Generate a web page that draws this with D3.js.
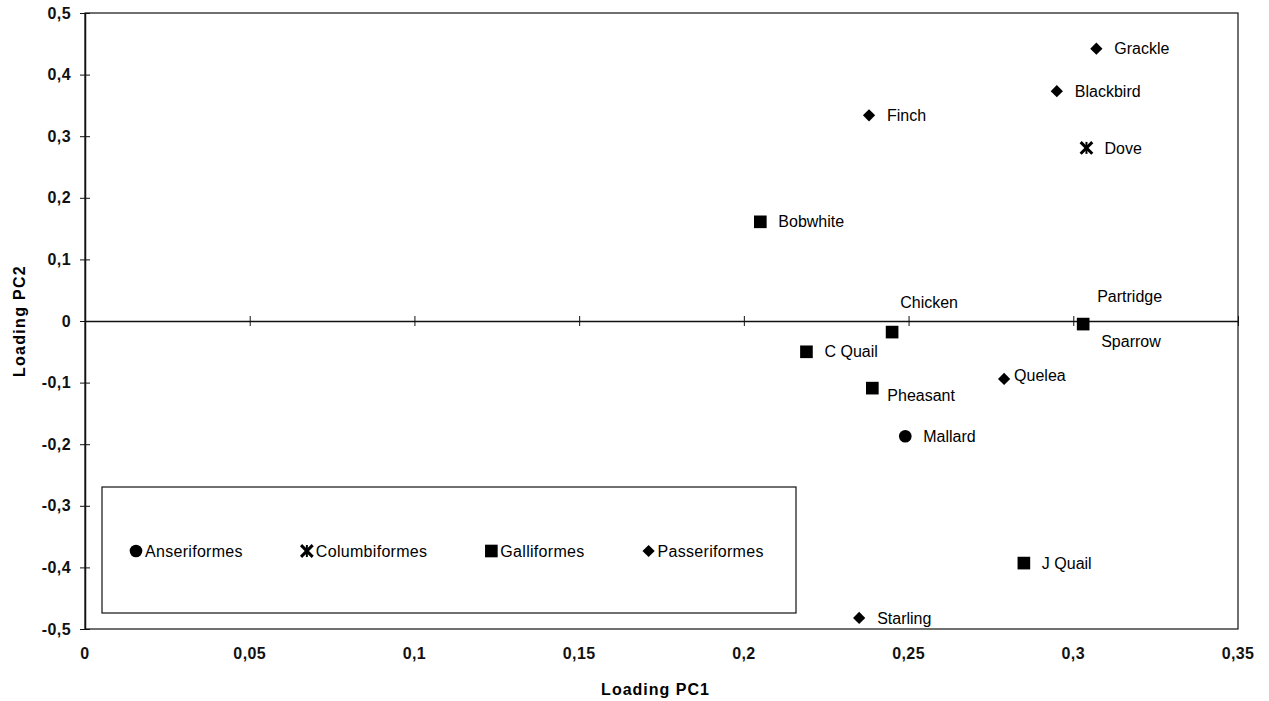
<!DOCTYPE html>
<html>
<head>
<meta charset="utf-8">
<script src="https://cdn.jsdelivr.net/npm/d3@7"></script>
<style>
  body { margin: 0; background: #fff; }
  text { font-family: "Liberation Sans", Arial, sans-serif; }
</style>
</head>
<body>
<div id="chart"></div>
<script>
// data
const birds = ['Grackle', 'Blackbird', 'Finch', 'Dove', 'Bobwhite', 'Chicken', 'Sparrow', 'Partridge',
	'C Quail', 'Pheasant', 'Quelea', 'Mallard', 'J Quail', 'Starling'];
const orders = ['Passeriformes', 'Passeriformes', 'Passeriformes', 'Columbiformes', 'Galliformes', 'Galliformes',
	'Passeriformes', 'Galliformes', 'Galliformes', 'Galliformes', 'Passeriformes', 'Anseriformes', 'Galliformes', 'Passeriformes'];
const pc1 = [0.307, 0.295, 0.238, 0.304, 0.205, 0.245, 0.303, 0.303, 0.219, 0.239, 0.279, 0.249, 0.285, 0.235];
const pc2 = [0.442, 0.373, 0.334, 0.281, 0.161, -0.018, -0.005, -0.005, -0.050, -0.109, -0.094, -0.187, -0.393, -0.482];
const legendOrders = ['Anseriformes', 'Columbiformes', 'Galliformes', 'Passeriformes'];
const xTicks = [0, 0.05, 0.1, 0.15, 0.2, 0.25, 0.3, 0.35];
const yTicks = [0.5, 0.4, 0.3, 0.2, 0.1, 0, -0.1, -0.2, -0.3, -0.4, -0.5];

const width = 1269, height = 701;
const margin = {top: 13, right: 31, bottom: 72, left: 85};
const innerW = width - margin.left - margin.right;
const innerH = height - margin.top - margin.bottom;

const svg = d3.select('#chart').append('svg')
	.attr('width', width)
	.attr('height', height);
const g = svg.append('g')
	.attr('transform', 'translate(' + margin.left + ',' + margin.top + ')');

const x = d3.scaleLinear().domain([0, 0.35]).range([0, innerW]);
const y = d3.scaleLinear().domain([-0.5, 0.5]).range([innerH, 0]);
const fmt = d => String(+d.toFixed(2)).replace('.', ',');

// frame
g.append('rect')
	.attr('width', innerW).attr('height', innerH)
	.attr('fill', 'none').attr('stroke', '#111').attr('stroke-width', 1.2);

// y axis on the left edge
const yAxisG = g.append('g')
	.call(d3.axisLeft(y).tickValues(yTicks).tickFormat(fmt).tickSize(0).tickPadding(14));
yAxisG.select('.domain').attr('stroke', '#111').attr('stroke-width', 1.5);
yAxisG.selectAll('.tick').append('line')
	.attr('x1', -5).attr('x2', 5).attr('stroke', '#111');
yAxisG.selectAll('text')
	.attr('font-size', 16).attr('font-weight', 'bold').attr('letter-spacing', 0.4)
	.attr('fill', '#111');

// x axis crossing at zero
const xAxisG = g.append('g')
	.attr('transform', 'translate(0,' + y(0) + ')')
	.call(d3.axisBottom(x).tickValues(xTicks).tickFormat('').tickSize(0));
xAxisG.select('.domain').attr('stroke', '#111').attr('stroke-width', 1.3);
xAxisG.selectAll('.tick').append('line')
	.attr('y1', -5).attr('y2', 5).attr('stroke', '#111');

// x tick labels below the frame
g.append('g')
	.attr('transform', 'translate(0,' + innerH + ')')
	.selectAll('text').data(xTicks).enter().append('text')
	.attr('x', d => x(d))
	.attr('y', 30)
	.attr('text-anchor', 'middle')
	.attr('font-size', 16).attr('font-weight', 'bold').attr('letter-spacing', 0.4)
	.attr('fill', '#111')
	.text(fmt);

// axis titles
svg.append('text')
	.attr('x', margin.left + x(0.35 / 2) - 6)
	.attr('y', 695)
	.attr('text-anchor', 'middle')
	.attr('font-size', 16).attr('font-weight', 'bold').attr('letter-spacing', 1)
	.text('Loading PC1');
svg.append('text')
	.attr('transform', 'translate(25,' + (margin.top + y(0)) + ') rotate(-90)')
	.attr('text-anchor', 'middle')
	.attr('font-size', 16).attr('font-weight', 'bold').attr('letter-spacing', 1.3)
	.text('Loading PC2');

// markers
const symbolFor = {
	Anseriformes: d3.symbol().type(d3.symbolCircle).size(125),
	Columbiformes: d3.symbol().type(d3.symbolX).size(90),
	Galliformes: d3.symbol().type(d3.symbolSquare).size(160),
	Passeriformes: d3.symbol().type(d3.symbolSquare).size(75)
};

function drawMarker(sel, order) {
	if (order === 'Columbiformes') {
		// asterisk-like X with a short vertical bar
		sel.append('path').attr('d', symbolFor[order]())
			.attr('fill', 'none').attr('stroke', '#000').attr('stroke-width', 3);
		sel.append('line').attr('x1', 0).attr('x2', 0).attr('y1', -6).attr('y2', 6)
			.attr('stroke', '#000').attr('stroke-width', 2);
	} else if (order === 'Passeriformes') {
		sel.append('path').attr('d', symbolFor[order]())
			.attr('transform', 'rotate(45)').attr('fill', '#000');
	} else {
		sel.append('path').attr('d', symbolFor[order]()).attr('fill', '#000');
	}
}

// label offsets (dx, dy, anchor)
const labelPos = {
	'Chicken': [37, -30, 'middle'],
	'Partridge': [14, -28, 'start'],
	'Sparrow': [18, 17, 'start'],
	'Pheasant': [15, 7, 'start'],
	'Quelea': [10, -4, 'start']
};

const points = birds.map((name, i) => ({name: name, order: orders[i], px: pc1[i], py: pc2[i]}));

const pts = g.selectAll('.pt').data(points).enter().append('g')
	.attr('class', 'pt')
	.attr('transform', d => 'translate(' + x(d.px) + ',' + y(d.py) + ')');
pts.each(function(d) {
	const s = d3.select(this);
	drawMarker(s, d.order);
	const lp = labelPos[d.name] || [18, 0, 'start'];
	s.append('text')
		.attr('x', lp[0]).attr('y', lp[1])
		.attr('dy', '0.35em')
		.attr('text-anchor', lp[2])
		.attr('font-size', 16).attr('fill', '#000')
		.text(d.name);
});

// legend, items flowed one after the other
const legend = g.append('g')
	.attr('transform', 'translate(' + (102 - margin.left) + ',' + (487 - margin.top) + ')');
legend.append('rect')
	.attr('width', 694).attr('height', 126)
	.attr('fill', '#fff').attr('stroke', '#111').attr('stroke-width', 1.2);
let cursor = 34;
legendOrders.forEach(d => {
	const s = legend.append('g')
		.attr('class', 'item')
		.attr('transform', 'translate(' + cursor + ',64)');
	drawMarker(s, d);
	const t = s.append('text')
		.attr('x', 9).attr('dy', '0.35em')
		.attr('font-size', 16).attr('letter-spacing', 0.3).attr('fill', '#000')
		.text(d);
	cursor += 9 + t.node().getComputedTextLength() + 64;
});
</script>
</body>
</html>
